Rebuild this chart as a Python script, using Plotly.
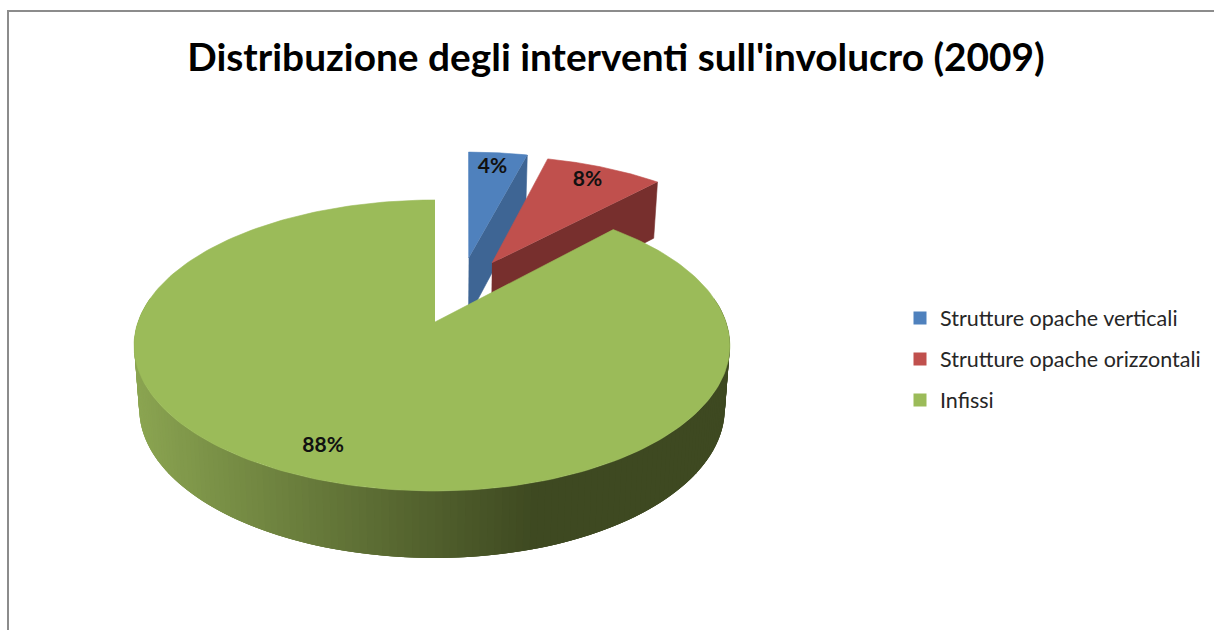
import numpy as np
import plotly.graph_objects as go

TITLE = "Distribuzione degli interventi sull'involucro (2009)"
categories = ["Strutture opache verticali", "Strutture opache orizzontali", "Infissi"]
values = [4, 8, 88]
top_colors = ["#4f81bd", "#c0504d", "#9bbb59"]
wall_colors = ["#3e6594", "#772f2d", None]
# exploded offset of each slice, in pie-radius units, measured from the green apex
apex_x = [0.125, 0.21, 0.0]
arc_x = [0.143, 0.225, 0.0]
explode_y = [0.487, 0.446, 0.0]
label_turn_deg = [-0.6, -0.4, 1.5]

# oblique projection of the pie plane onto the picture
CX, CY, KP = 435.0, 322.0, 0.1615
AX_POS, AX_NEG, BY = 291.0, 297.0, 141.7


def project(X, Y):
    X, Y = np.asarray(X, float), np.asarray(Y, float)
    d = 1 + KP * Y
    return CX + np.where(X >= 0, AX_POS, AX_NEG) * X / d, CY - BY * Y / d


def extrude(X, Y):
    x, y = project(X, Y)
    return CX + (x - CX) * 0.983, y + 62 - 5 * np.asarray(Y, float)


fig = go.Figure()
total = sum(values)
fracs = np.array(values) / total
starts = np.concatenate([[0], np.cumsum(fracs)[:-1]]) * 2 * np.pi
ends = np.cumsum(fracs) * 2 * np.pi


def add_poly(x, y, color, name=None, lw=0.6):
    fig.add_trace(go.Scatter(x=list(x), y=list(y), mode="lines", fill="toself", fillcolor=color,
                             line=dict(color=color, width=lw), hoverinfo="skip",
                             showlegend=False, name=name))


labels = []
for i, cat in enumerate(categories):
    a = np.linspace(starts[i], ends[i], 240)
    X = arc_x[i] + np.sin(a)
    Y = explode_y[i] + np.cos(a)
    ox, oy = apex_x[i], explode_y[i]
    if wall_colors[i]:
        # the radial wall at the slice's closing edge
        ex, ey = X[-1], Y[-1]
        p1 = project([ox, ex], [oy, ey])
        p2 = extrude([ex, ox], [ey, oy])
        add_poly(np.concatenate([p1[0], p2[0]]), np.concatenate([p1[1], p2[1]]), wall_colors[i])
    else:
        # the curved outer wall, shaded by picture position; strips overlap to hide seams
        edges = np.linspace(np.radians(80), np.radians(280), 161)
        for k in range(len(edges) - 1):
            a0, a1 = edges[-(k + 2)], edges[-(k + 1)]
            aa = np.linspace(a0, min(a1 + (edges[1] - edges[0]) * 2, edges[-1]), 4)
            tx, ty = project(np.sin(aa), np.cos(aa))
            bx, by = extrude(np.sin(aa), np.cos(aa))
            t = np.clip((project(np.sin(a0), np.cos(a0))[0] - 135) / (555 - 135), 0, 1)
            c = (1 - t) * np.array([140, 166, 82]) + t * np.array([62, 73, 33])
            col = "rgb(%d,%d,%d)" % tuple(c)
            add_poly(np.concatenate([tx, bx[::-1]]), np.concatenate([ty, by[::-1]]), col, lw=0)
    # top face
    fx, fy = project(np.concatenate([[ox], X]), np.concatenate([[oy], Y]))
    add_poly(fx, fy, top_colors[i], cat)
    mid = (starts[i] + ends[i]) / 2 + np.radians(label_turn_deg[i])
    lx, ly = project(arc_x[i] + 0.84 * np.sin(mid), oy + 0.84 * np.cos(mid))
    labels.append((float(lx), float(ly), f"{values[i]}%"))

fig.add_trace(go.Scatter(x=[l[0] for l in labels], y=[l[1] for l in labels],
                         text=[l[2] for l in labels], mode="text", textposition="middle center",
                         textfont=dict(family="Lato", size=21, color="#111111", weight=700),
                         showlegend=False, hoverinfo="skip"))

for cat, col in zip(categories, top_colors):
    fig.add_trace(go.Scatter(x=[None], y=[None], mode="markers", name=cat, legendgroup=cat,
                             marker=dict(symbol="square", size=13, color=col)))

fig.update_layout(
    width=1214, height=630, autosize=False,
    margin=dict(l=0, r=0, t=0, b=0),
    paper_bgcolor="white", plot_bgcolor="white",
    xaxis=dict(range=[0, 1214], visible=False, fixedrange=True),
    yaxis=dict(range=[630, 0], visible=False, fixedrange=True),
    title=dict(text=TITLE, x=616 / 1214, xanchor="center", y=1 - 57 / 630, yanchor="middle",
               font=dict(family="Lato", size=38.8, color="black", weight=700)),
    legend=dict(x=900 / 1214, y=1 - 359 / 630, xanchor="left", yanchor="middle",
                font=dict(family="Lato", size=21.5, color="#262626"),
                tracegroupgap=10, itemclick=False, itemdoubleclick=False),
    shapes=[dict(type="path", xref="x", yref="y", path="M 8 630 L 8 11 L 1214 11",
                 line=dict(color="#8c8c8c", width=2))],
)
fig.write_html("out.html", config=dict(displayModeBar=False),
               post_script="document.body.style.margin='0';")
